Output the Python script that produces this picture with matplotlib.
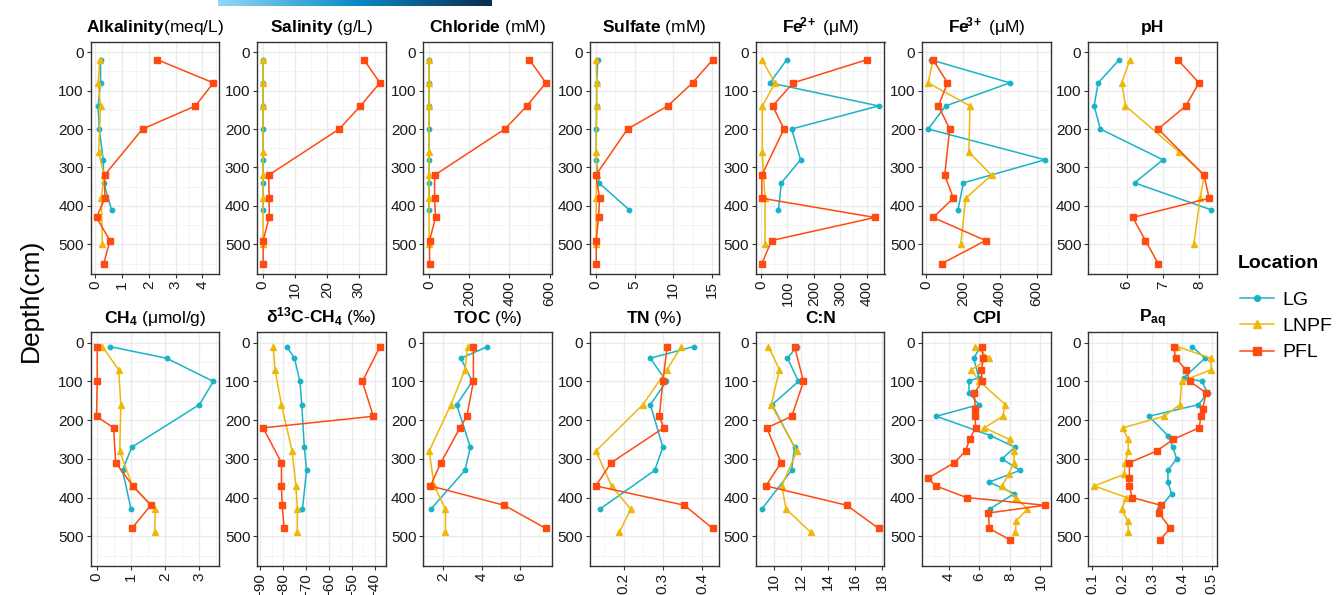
import matplotlib
matplotlib.use("Agg")
import matplotlib.pyplot as plt
import numpy as np
from matplotlib.ticker import AutoMinorLocator, FixedLocator
from matplotlib.colors import LinearSegmentedColormap
from matplotlib.lines import Line2D

plt.rcParams['font.family'] = ['Liberation Sans', 'DejaVu Sans']
plt.rcParams['mathtext.fontset'] = 'custom'
plt.rcParams['mathtext.rm'] = 'Liberation Sans'
plt.rcParams['mathtext.bf'] = 'Liberation Sans:bold'
plt.rcParams['mathtext.it'] = 'Liberation Sans:italic'

# ---------------- data ----------------
locations = ["LG", "LNPF", "PFL"]

# porewater (top row) depths, cm
depth_pw_LG = [20, 80, 140, 200, 280, 340, 410]
depth_pw_LNPF = [20, 80, 140, 260, 320, 380, 500]
depth_pw_PFL = [20, 80, 140, 200, 320, 380, 430, 490, 550]

alk_LG = [0.19, 0.19, 0.10, 0.14, 0.29, 0.31, 0.60]
alk_LNPF = [0.16, 0.10, 0.19, 0.12, 0.32, 0.22, 0.26]
alk_PFL = [2.32, 4.41, 3.74, 1.76, 0.34, 0.35, 0.04, 0.54, 0.31]

sal_LG = [0.2, 0.2, 0.2, 0.2, 0.2, 0.2, 0.2]
sal_LNPF = [0.2, 0.2, 0.2, 0.2, 0.2, 0.2, 0.2]
sal_PFL = [31.6, 36.6, 30.5, 23.9, 1.8, 2.0, 2.0, 0.1, 0.1]

cl_LG = [2, 2, 2, 2, 2, 2, 2]
cl_LNPF = [1, 1, 1, 1, 1, 1, 1]
cl_PFL = [500, 582, 487, 378, 28, 28, 33, 3, 3]

so4_LG = [0.26, 0.10, 0.10, 0.05, 0.05, 0.40, 4.30]
so4_LNPF = [0.05, 0.10, 0.10, 0.05, 0.10, 0.05, 0.05]
so4_PFL = [15.1, 12.5, 9.3, 4.1, 0.0, 0.48, 0.35, 0.05, 0.05]

fe2_LG = [97, 34, 446, 116, 150, 77, 66]
fe2_LNPF = [3, 53, 5, 5, 9, 15, 15]
fe2_PFL = [400, 122, 44, 87, 3, 3, 432, 40, 3]

fe3_LG = [25, 455, 106, 11, 645, 202, 173]
fe3_LNPF = [38, 11, 238, 232, 355, 215, 188]
fe3_PFL = [38, 116, 67, 128, 101, 148, 38, 323, 85]

ph_LG = [5.80, 5.22, 5.11, 5.28, 7.00, 6.22, 8.32]
ph_LNPF = [6.09, 5.87, 5.97, 7.45, 8.14, 8.02, 7.85]
ph_PFL = [7.41, 7.99, 7.63, 6.87, 8.13, 8.27, 6.17, 6.52, 6.87]

# sediment (bottom row) depths, cm
depth_sd_LG = [10, 40, 100, 160, 270, 330, 430]
depth_sd_LNPF = [10, 70, 160, 280, 370, 430, 490]
depth_sd_PFL = [10, 100, 190, 220, 310, 370, 420, 480]

ch4_LG = [0.39, 2.05, 3.42, 3.01, 1.03, 0.76, 1.01]
ch4_LNPF = [0.17, 0.65, 0.71, 0.68, 1.05, 1.72, 1.70]
ch4_PFL = [0.02, 0.02, 0.0, 0.50, 0.56, 1.06, 1.59, 1.03]

d13c_LG = [-78.5, -75.1, -72.7, -71.9, -70.8, -69.8, -71.6]
d13c_LNPF = [-84.4, -83.6, -80.8, -76.1, -74.5, -73.8, -73.9]
d13c_PFL = [-37.7, -45.4, -40.6, -88.8, -80.8, -80.8, -80.5, -79.6]

toc_LG = [4.30, 2.92, 3.51, 2.70, 3.41, 3.13, 1.36]
toc_LNPF = [3.27, 3.13, 2.40, 1.27, 1.53, 2.12, 2.12]
toc_PFL = [3.57, 3.57, 3.23, 2.87, 1.88, 1.34, 5.17, 7.34]

tn_LG = [0.379, 0.268, 0.309, 0.268, 0.300, 0.279, 0.139]
tn_LNPF = [0.347, 0.310, 0.249, 0.129, 0.169, 0.218, 0.189]
tn_PFL = [0.311, 0.300, 0.291, 0.302, 0.168, 0.129, 0.355, 0.427]

cn_LG = [11.72, 11.03, 11.84, 9.90, 11.55, 11.33, 9.14]
cn_LNPF = [9.63, 10.44, 9.83, 11.72, 10.61, 10.93, 12.75]
cn_PFL = [11.55, 12.21, 11.35, 9.51, 10.56, 9.44, 15.40, 17.75]

# biomarker depths, cm
depth_bm_LG = [10, 40, 90, 100, 130, 160, 190, 240, 270, 300, 330, 360, 390, 430]
depth_bm_LNPF = [10, 40, 70, 100, 160, 190, 220, 250, 280, 310, 340, 370, 400, 430, 460, 490]
depth_bm_PFL = [10, 40, 70, 100, 130, 170, 190, 220, 250, 280, 310, 350, 370, 400, 420, 440, 480, 510]

cpi_LG = [6.07, 5.62, 5.95, 5.30, 5.33, 5.96, 3.17, 6.72, 8.33, 7.48, 8.65, 6.64, 8.28, 6.66]
cpi_LNPF = [5.70, 6.65, 5.46, 6.00, 7.70, 7.52, 6.33, 7.98, 8.28, 8.26, 7.91, 7.48, 8.41, 9.15, 8.41, 8.36]
cpi_PFL = [6.17, 6.26, 6.13, 6.17, 5.67, 5.72, 5.72, 5.74, 5.35, 5.09, 4.35, 2.63, 3.13, 5.15, 10.3, 6.59, 6.65, 8.03]

paq_LG = [0.434, 0.477, 0.407, 0.467, 0.486, 0.455, 0.289, 0.353, 0.370, 0.382, 0.353, 0.353, 0.365, 0.323]
paq_LNPF = [0.385, 0.497, 0.497, 0.399, 0.393, 0.340, 0.201, 0.220, 0.220, 0.210, 0.207, 0.106, 0.214, 0.198, 0.218, 0.221]
paq_PFL = [0.372, 0.379, 0.413, 0.427, 0.481, 0.469, 0.464, 0.457, 0.370, 0.315, 0.224, 0.224, 0.224, 0.233, 0.329, 0.323, 0.361, 0.325]

titles_top = [r"$\mathbf{Alkalinity}$(meq/L)", r"$\mathbf{Salinity}$ (g/L)",
              r"$\mathbf{Chloride}$ (mM)", r"$\mathbf{Sulfate}$ (mM)",
              r"$\mathbf{Fe^{\!\!2+}}$ (μM)", r"$\mathbf{Fe^{\!\!3+}}$ (μM)", "pH"]
titles_bot = [r"$\mathbf{CH_4}$ (μmol/g)", r"$\mathbf{δ^{13}C}$$\mathbf{\text{-}CH_4}$ (‰)",
              r"$\mathbf{TOC}$ (%)", r"$\mathbf{TN}$ (%)", "C:N",
              "CPI", r"$\mathbf{P_{aq}}$"]

xticks_top = [[0, 1, 2, 3, 4], [0, 10, 20, 30], [0, 200, 400, 600], [0, 5, 10, 15],
              [0, 100, 200, 300, 400], [0, 200, 400, 600], [6, 7, 8]]
xticks_bot = [[0, 1, 2, 3], [-90, -80, -70, -60, -50, -40], [2, 4, 6], [0.2, 0.3, 0.4],
              [10, 12, 14, 16, 18], [4, 6, 8, 10], [0.1, 0.2, 0.3, 0.4, 0.5]]
depth_ticks = [0, 100, 200, 300, 400, 500]

top_panels = [
    (alk_LG, alk_LNPF, alk_PFL), (sal_LG, sal_LNPF, sal_PFL), (cl_LG, cl_LNPF, cl_PFL),
    (so4_LG, so4_LNPF, so4_PFL), (fe2_LG, fe2_LNPF, fe2_PFL), (fe3_LG, fe3_LNPF, fe3_PFL),
    (ph_LG, ph_LNPF, ph_PFL)]
top_depths = (depth_pw_LG, depth_pw_LNPF, depth_pw_PFL)

bot_panels = [
    ((ch4_LG, ch4_LNPF, ch4_PFL), (depth_sd_LG, depth_sd_LNPF, depth_sd_PFL)),
    ((d13c_LG, d13c_LNPF, d13c_PFL), (depth_sd_LG, depth_sd_LNPF, depth_sd_PFL)),
    ((toc_LG, toc_LNPF, toc_PFL), (depth_sd_LG, depth_sd_LNPF, depth_sd_PFL)),
    ((tn_LG, tn_LNPF, tn_PFL), (depth_sd_LG, depth_sd_LNPF, depth_sd_PFL)),
    ((cn_LG, cn_LNPF, cn_PFL), (depth_sd_LG, depth_sd_LNPF, depth_sd_PFL)),
    ((cpi_LG, cpi_LNPF, cpi_PFL), (depth_bm_LG, depth_bm_LNPF, depth_bm_PFL)),
    ((paq_LG, paq_LNPF, paq_PFL), (depth_bm_LG, depth_bm_LNPF, depth_bm_PFL)),
]

# ---------------- style ----------------
colors = {"LG": "#19B3C7", "LNPF": "#EDB80A", "PFL": "#FF4A10"}
markers = {"LG": "o", "LNPF": "^", "PFL": "s"}
msizes = {"LG": 3.2, "LNPF": 4.2, "PFL": 5.0}

W, H = 1336, 595
fig = plt.figure(figsize=(W / 100, H / 100), dpi=100)

col_left = [90.7, 257.3, 423.3, 590.0, 756.0, 922.3, 1088.3]
pw = 128.5
rows = [(41.7, 274.0), (332.3, 566.0)]


def make_ax(left, top, bottom):
    return fig.add_axes([left / W, 1 - bottom / H, pw / W, (bottom - top) / H])


def style_ax(ax, xt, title):
    ax.set_ylim(577, -27)
    ax.yaxis.set_major_locator(FixedLocator(depth_ticks))
    ax.yaxis.set_minor_locator(AutoMinorLocator(2))
    ax.xaxis.set_major_locator(FixedLocator(xt))
    ax.xaxis.set_minor_locator(AutoMinorLocator(2))
    ax.grid(which='major', color='#EBEBEB', lw=1.0, zorder=0)
    ax.grid(which='minor', color='#F2F2F2', lw=0.6, zorder=0)
    ax.set_axisbelow(True)
    for s in ax.spines.values():
        s.set_color('#333333')
        s.set_linewidth(1.0)
    ax.tick_params(axis='both', which='major', length=3, width=0.8, color='#333333',
                   labelsize=11, labelcolor='#1a1a1a', pad=2)
    ax.tick_params(axis='both', which='minor', length=0)
    ax.tick_params(axis='x', labelrotation=90)
    ax.set_xticklabels([('%g' % v).replace('-', '\u2212') for v in xt])
    ax.set_yticklabels([str(v) for v in depth_ticks])
    weight = 'normal' if '$' in title else 'bold'
    ax.set_title(title, fontsize=12.5, pad=7, fontweight=weight)


def draw(ax, vals, depths):
    for loc, v, d in zip(locations, vals, depths):
        ax.plot(v, d, color=colors[loc], lw=1.1, marker=markers[loc],
                ms=msizes[loc], mec=colors[loc], mfc=colors[loc], zorder=3)
    ax.margins(x=0.05)


for i, vals in enumerate(top_panels):
    ax = make_ax(col_left[i], *rows[0])
    draw(ax, vals, top_depths)
    style_ax(ax, xticks_top[i], titles_top[i])

for i, (vals, deps) in enumerate(bot_panels):
    ax = make_ax(col_left[i], *rows[1])
    draw(ax, vals, deps)
    style_ax(ax, xticks_bot[i], titles_bot[i])

fig.text(31 / W, 1 - 300 / H, "Depth(cm)", rotation=90, fontsize=19,
         ha='center', va='center')

# legend
fig.text(1238 / W, 1 - 264 / H, "Location", fontsize=14, fontweight='bold',
         ha='left', va='center')
handles = [Line2D([0], [0], color=colors[l], lw=1.1, marker=markers[l], ms=msizes[l] + 1)
           for l in locations]
leg = fig.legend(handles, locations, loc='upper left',
                 bbox_to_anchor=(1240 / W, 1 - 291 / H), frameon=False,
                 fontsize=14, borderpad=0, borderaxespad=0,
                 handlelength=1.75, handletextpad=0.45, labelspacing=0.45)

# decorative gradient strip at top
cmap = LinearSegmentedColormap.from_list("strip", ["#92D8F6", "#0A8BC9", "#0B2C4E"])
gax = fig.add_axes([218 / W, 1 - 5.7 / H, 274 / W, 5.7 / H])
gax.imshow(np.linspace(0, 1, 256)[None, :], aspect='auto', cmap=cmap)
gax.axis('off')

fig.savefig("out.png", dpi=100)
